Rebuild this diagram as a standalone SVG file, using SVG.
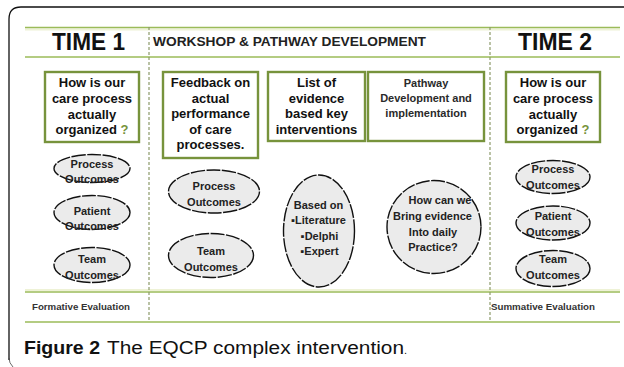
<svg xmlns="http://www.w3.org/2000/svg" width="624" height="367" viewBox="0 0 624 367">
<style>
.hl{stroke:#9bbb59;stroke-width:1.6;fill:none}
.pale{stroke:#eef2d6;stroke-width:2;fill:none}
.vd{stroke:#8c9a6a;stroke-width:1.2;stroke-dasharray:3 2;fill:none}
.box{fill:#fff;stroke:#77933c;stroke-width:2.4}
.ell{fill:#ebebeb;stroke:#111;stroke-width:1.4;stroke-dasharray:14 1.5}
.bt{font-family:"Liberation Sans",Arial,sans-serif;font-weight:bold;font-size:13px;fill:#111;text-anchor:middle}
.st{font-family:"Liberation Sans",Arial,sans-serif;font-weight:bold;font-size:11px;fill:#2a2a2a;text-anchor:middle}
.et{font-family:"Liberation Sans",Arial,sans-serif;font-weight:bold;font-size:11px;fill:#222;text-anchor:middle}
.q{fill:#77933c}
.tm{font-family:"Liberation Sans",Arial,sans-serif;font-weight:bold;font-size:23px;fill:#111;text-anchor:middle}
.hd{font-family:"Liberation Sans",Arial,sans-serif;font-weight:bold;font-size:13.5px;fill:#222}
.ev{font-family:"Liberation Sans",Arial,sans-serif;font-weight:bold;font-size:9px;fill:#333}
.cap{font-family:"Liberation Sans",Arial,sans-serif;font-size:18px;fill:#111}
</style>
<rect width="624" height="367" fill="#fff"/>
<path d="M9 360 L9 19 Q9 7 21 7 L624 7" fill="none" stroke="#111" stroke-width="1.3"/>
<path d="M9 358 Q9 363 13 367" fill="none" stroke="#444" stroke-width="0.8"/>

<g id="frame-lines">
<line class="pale" x1="25" y1="29.5" x2="620" y2="29.5"/>
<line class="hl" x1="25" y1="27.5" x2="620" y2="27.5"/>
<line class="hl" x1="25" y1="57" x2="620" y2="57"/>
<line class="pale" x1="25" y1="290" x2="620" y2="290"/>
<line class="hl" x1="25" y1="292" x2="620" y2="292"/>
<line class="hl" x1="25" y1="322" x2="620" y2="322" stroke-width="2"/>
<line class="vd" x1="149" y1="27" x2="149" y2="322"/>
<line class="vd" x1="490" y1="27" x2="490" y2="322"/>
</g>

<g id="headers">
<text class="tm" x="88.5" y="50" textLength="73" lengthAdjust="spacingAndGlyphs">TIME 1</text>
<text class="tm" x="555" y="50" textLength="74" lengthAdjust="spacingAndGlyphs">TIME 2</text>
<text class="hd" x="153" y="45.5" textLength="273" lengthAdjust="spacingAndGlyphs">WORKSHOP &amp; PATHWAY DEVELOPMENT</text>
</g>

<g id="box-time1">
<rect class="box" x="45" y="72" width="94" height="70"/>
<text class="bt" x="92" y="87">How is our</text>
<text class="bt" x="92" y="103">care process</text>
<text class="bt" x="92" y="118.5">actually</text>
<text class="bt" x="92" y="134">organized <tspan class="q">?</tspan></text>
</g>

<g id="box-feedback">
<rect class="box" x="163" y="72" width="95" height="86"/>
<text class="bt" x="210.5" y="87">Feedback on</text>
<text class="bt" x="210.5" y="102.5">actual</text>
<text class="bt" x="210.5" y="118">performance</text>
<text class="bt" x="210.5" y="133.5">of care</text>
<text class="bt" x="210.5" y="149">processes.</text>
</g>

<g id="box-list">
<rect class="box" x="268" y="72" width="97" height="69"/>
<text class="bt" x="316.5" y="87">List of</text>
<text class="bt" x="316.5" y="102.5">evidence</text>
<text class="bt" x="316.5" y="118">based key</text>
<text class="bt" x="316.5" y="133.5">interventions</text>
</g>

<g id="box-pathway">
<rect class="box" x="368" y="72" width="116" height="69"/>
<text class="st" x="426" y="86.5">Pathway</text>
<text class="st" x="426" y="101.5">Development and</text>
<text class="st" x="426" y="117">implementation</text>
</g>

<g id="box-time2">
<rect class="box" x="506" y="72" width="94" height="70"/>
<text class="bt" x="553" y="87">How is our</text>
<text class="bt" x="553" y="103">care process</text>
<text class="bt" x="553" y="118.5">actually</text>
<text class="bt" x="553" y="134">organized <tspan class="q">?</tspan></text>
</g>

<g id="t1-process">
<ellipse class="ell" cx="92" cy="168.5" rx="38" ry="14"/>
<text class="et" x="92" y="168">Process</text>
<text class="et" x="92" y="183">Outcomes</text>
</g>
<g id="t1-patient">
<ellipse class="ell" cx="92" cy="212.5" rx="38" ry="17"/>
<text class="et" x="92" y="214.5">Patient</text>
<text class="et" x="92" y="230">Outcomes</text>
</g>
<g id="t1-team">
<ellipse class="ell" cx="92" cy="265" rx="38" ry="17.5"/>
<text class="et" x="92" y="263">Team</text>
<text class="et" x="92" y="279">Outcomes</text>
</g>

<g id="w-process">
<ellipse class="ell" cx="214" cy="191.5" rx="45.5" ry="21.5"/>
<text class="et" x="214" y="190">Process</text>
<text class="et" x="214" y="205.5">Outcomes</text>
</g>
<g id="w-team">
<ellipse class="ell" cx="211" cy="255.5" rx="42.5" ry="22"/>
<text class="et" x="211" y="254.5">Team</text>
<text class="et" x="211" y="270.5">Outcomes</text>
</g>
<g id="w-based">
<ellipse class="ell" cx="319" cy="231" rx="35.5" ry="56"/>
<text class="et" x="318.5" y="209">Based on</text>
<text class="et" x="318.5" y="224">▪Literature</text>
<text class="et" x="319.5" y="239.5">▪Delphi</text>
<text class="et" x="319.5" y="255">▪Expert</text>
</g>
<g id="w-how">
<ellipse class="ell" cx="434" cy="227" rx="47" ry="46.5"/>
<text class="et" x="440" y="204">How can we</text>
<text class="et" x="432.5" y="220">Bring evidence</text>
<text class="et" x="433" y="235.5">Into daily</text>
<text class="et" x="433" y="251">Practice?</text>
</g>

<g id="t2-process">
<ellipse class="ell" cx="553" cy="177" rx="37" ry="16.5"/>
<text class="et" x="553" y="173">Process</text>
<text class="et" x="553" y="189">Outcomes</text>
</g>
<g id="t2-patient">
<ellipse class="ell" cx="553" cy="223" rx="37" ry="17"/>
<text class="et" x="553" y="220">Patient</text>
<text class="et" x="553" y="235.5">Outcomes</text>
</g>
<g id="t2-team">
<ellipse class="ell" cx="553" cy="268.5" rx="37" ry="18"/>
<text class="et" x="553" y="263">Team</text>
<text class="et" x="553" y="279">Outcomes</text>
</g>

<g id="evaluations">
<text class="ev" x="32" y="310" textLength="98" lengthAdjust="spacingAndGlyphs">Formative Evaluation</text>
<text class="ev" x="491" y="310" textLength="104" lengthAdjust="spacingAndGlyphs">Summative Evaluation</text>
</g>

<g id="caption">
<text class="cap" x="24" y="354"><tspan font-weight="bold" textLength="76" lengthAdjust="spacingAndGlyphs">Figure 2</tspan><tspan x="107" textLength="297" lengthAdjust="spacingAndGlyphs">The EQCP complex intervention</tspan><tspan font-size="11">.</tspan></text>
</g>
</svg>
